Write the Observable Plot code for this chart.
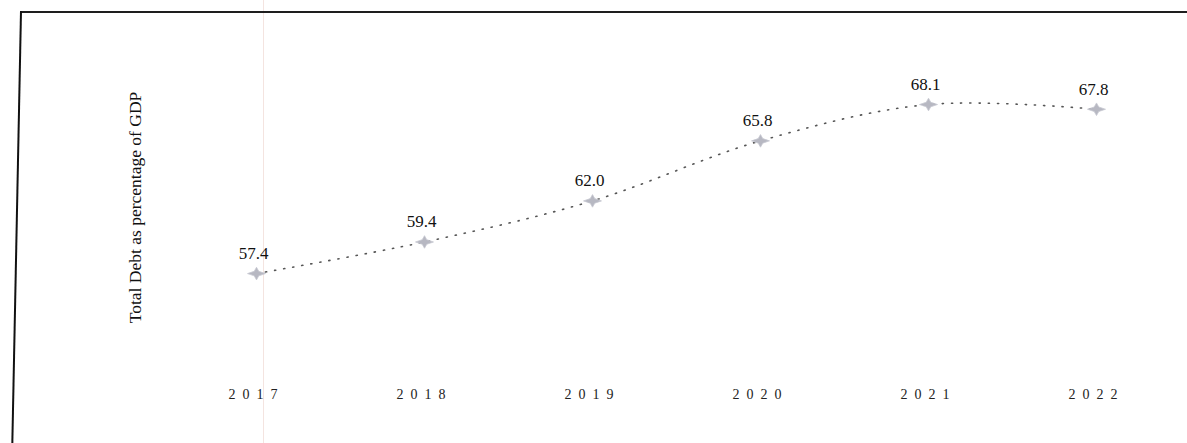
<!DOCTYPE html>
<html>
<head>
<meta charset="utf-8">
<script src="https://cdn.jsdelivr.net/npm/d3@7"></script>
<script src="https://cdn.jsdelivr.net/npm/@observablehq/plot@0.6"></script>
<style>
  html, body { margin: 0; padding: 0; background: #fff; width: 1187px; height: 443px; overflow: hidden; }
  #wrap { position: relative; width: 1187px; height: 443px; }
  #frame-top { position: absolute; left: 20px; top: 11px; width: 1167px; height: 0; border-top: 2px solid #1e1e1e; }
  #frame-left { position: absolute; left: 20px; top: 11px; width: 0; height: 440px; border-left: 2px solid #111; transform: skewX(-1.15deg); transform-origin: top left; }
  #scan { position: absolute; left: 263px; top: 0; width: 1px; height: 443px; background: #f4e4e0; }
  #chart { position: absolute; left: 0; top: 0; }
  #chart g[aria-label="x-axis tick label"] text { letter-spacing: 7px; }
</style>
</head>
<body>
<div id="wrap">
  <div id="scan"></div>
  <div id="chart"></div>
  <div id="frame-top"></div>
  <div id="frame-left"></div>
</div>
<script>
const years = [2017, 2018, 2019, 2020, 2021, 2022];
const debtPct = [57.4, 59.4, 62.0, 65.8, 68.1, 67.8];
const yLabel = "Total Debt as percentage of GDP";

const data = years.map((year, i) => ({year, value: debtPct[i]}));

const star4 = {
  draw(context, size) {
    const r = Math.sqrt(size / Math.PI);
    const rx = r * 1.5, ry = r * 1.05, w = r * 0.38;
    context.moveTo(rx, 0);
    context.lineTo(w, w);
    context.lineTo(0, ry);
    context.lineTo(-w, w);
    context.lineTo(-rx, 0);
    context.lineTo(-w, -w);
    context.lineTo(0, -ry);
    context.lineTo(w, -w);
    context.closePath();
  }
};

const chart = Plot.plot({
  width: 1187,
  height: 443,
  marginLeft: 254,
  marginRight: 89,
  marginTop: 74,
  marginBottom: 53,
  style: {fontFamily: "'Liberation Serif', 'Times New Roman', serif", background: "transparent"},
  x: {type: "point", domain: years, padding: 0},
  y: {domain: [50, 70]},
  marks: [
    Plot.axisX({
      tickSize: 0,
      tickPadding: -1,
      label: null,
      tickFormat: d => String(d),
      fontSize: 14,
      fill: "#222"
    }),
    Plot.axisY({ticks: [], label: null}),
    Plot.line(data, {
      x: "year", y: "value",
      curve: "catmull-rom",
      stroke: "#555",
      strokeWidth: 1.6,
      strokeDasharray: "1.2,8",
      strokeLinecap: "round"
    }),
    Plot.dot(data, {
      x: "year", y: "value",
      symbol: star4,
      r: 6,
      fill: "#b7b8c2",
      stroke: "#c8c9d2",
      strokeWidth: 0.8
    }),
    Plot.text(data, {
      x: "year", y: "value",
      text: d => d.value.toFixed(1),
      dy: -20,
      dx: -3,
      fontSize: 17,
      fill: "#111"
    }),
    Plot.text([yLabel], {
      frameAnchor: "left",
      textAnchor: "middle",
      rotate: -90,
      dx: -119,
      dy: -25,
      fontSize: 17.5,
      fill: "#111"
    })
  ]
});

document.getElementById("chart").appendChild(chart);
</script>
</body>
</html>
